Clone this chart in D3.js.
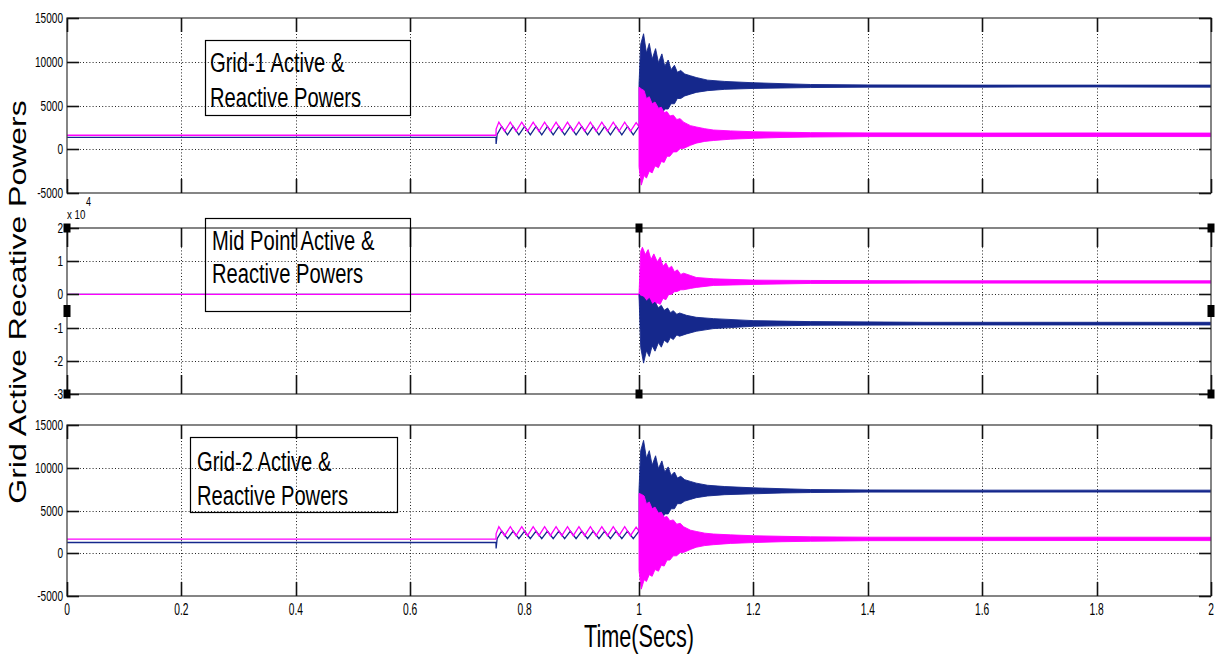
<!DOCTYPE html>
<html>
<head>
<meta charset="utf-8">
<script src="https://cdn.jsdelivr.net/npm/d3@7"></script>
<style>
  html, body { margin: 0; padding: 0; background: #fff; }
  svg { display: block; }
  text { font-family: "Liberation Sans", Arial, sans-serif; fill: #000; }
</style>
</head>
<body>
<svg id="chart" width="1219" height="654"></svg>
<script>
// ---- shared axis data ----
const timeTicks = [0, 0.2, 0.4, 0.6, 0.8, 1, 1.2, 1.4, 1.6, 1.8, 2];
const timeTickLabels = ["0", "0.2", "0.4", "0.6", "0.8", "1", "1.2", "1.4", "1.6", "1.8", "2"];
const gridPowerTicks = [-5000, 0, 5000, 10000, 15000];
const midPowerTicks = [-3, -2, -1, 0, 1, 2];   // x 10^4

// ---- Grid-1: traces up to t = 1 s as [t, value] ----
const g1ActiveLine = [
  [0, 1350], [0.75, 1350], [0.7502, 600], [0.752, 1700],
  [0.76, 2600], [0.77, 1650], [0.78, 2600], [0.79, 1650], [0.80, 2600], [0.81, 1650],
  [0.82, 2600], [0.83, 1650], [0.84, 2600], [0.85, 1650], [0.86, 2600], [0.87, 1650],
  [0.88, 2600], [0.89, 1650], [0.90, 2600], [0.91, 1650], [0.92, 2600], [0.93, 1650],
  [0.94, 2600], [0.95, 1650], [0.96, 2600], [0.97, 1650], [0.98, 2600], [0.99, 1650],
  [1.0, 2600]
];
const g1ReactiveLine = [
  [0, 1600], [0.75, 1600], [0.7502, 2300],
  [0.755, 3100], [0.765, 2050], [0.775, 3100], [0.785, 2050], [0.795, 3100], [0.805, 2050],
  [0.815, 3100], [0.825, 2050], [0.835, 3100], [0.845, 2050], [0.855, 3100], [0.865, 2050],
  [0.875, 3100], [0.885, 2050], [0.895, 3100], [0.905, 2050], [0.915, 3100], [0.925, 2050],
  [0.935, 3100], [0.945, 2050], [0.955, 3100], [0.965, 2050], [0.975, 3100], [0.985, 2050],
  [0.995, 3050], [1.0, 2600]
];
// ---- Grid-1: oscillation band after t = 1 s as [t, low, high] ----
const g1ActiveBand = [
  [1.000, 2600, 7400], [1.003, 3000, 12000], [1.008, 3200, 13200], [1.013, 3500, 11000],
  [1.018, 3400, 12100], [1.023, 3800, 10300], [1.029, 3700, 11500], [1.034, 4100, 9900],
  [1.040, 4000, 10900], [1.045, 4600, 9500], [1.051, 4600, 10200], [1.056, 5200, 9100],
  [1.062, 5200, 9600], [1.067, 5800, 8800], [1.073, 5800, 9000], [1.080, 6100, 8600],
  [1.090, 6300, 8400], [1.100, 6500, 8200], [1.120, 6700, 7900], [1.150, 6850, 7750],
  [1.200, 6950, 7600], [1.250, 7000, 7500], [1.300, 7050, 7400], [1.400, 7100, 7350],
  [1.600, 7100, 7330], [1.800, 7120, 7330], [2.000, 7100, 7330]
];
const g1ReactiveBand = [
  [1.000, -2000, 7100], [1.004, -4100, 6900], [1.009, -3000, 6700], [1.013, -3300, 5800],
  [1.018, -2500, 6000], [1.023, -2700, 5200], [1.028, -1900, 5400], [1.034, -2100, 4700],
  [1.039, -1400, 4800], [1.044, -1500, 4200], [1.049, -800, 4300], [1.054, -800, 3800],
  [1.060, -300, 3900], [1.066, -300, 3400], [1.072, 100, 3500], [1.078, 100, 3100],
  [1.090, 450, 2700], [1.100, 700, 2550], [1.115, 900, 2350], [1.130, 1000, 2200],
  [1.160, 1150, 2100], [1.200, 1250, 2000], [1.250, 1350, 1950], [1.300, 1400, 1900],
  [1.400, 1450, 1870], [1.600, 1450, 1850], [1.800, 1460, 1860], [2.000, 1450, 1850]
];

// ---- Mid point (x 10^4) ----
const mpActiveLine = [[0, 0], [1.0, 0]];
const mpReactiveLine = [[0, 0], [1.0, 0]];
const mpActiveBand = [
  [1.000, 0, 0], [1.003, -1.60, -0.05], [1.008, -2.07, -0.08], [1.013, -1.70, -0.20],
  [1.018, -1.87, -0.12], [1.023, -1.55, -0.30], [1.028, -1.71, -0.24], [1.034, -1.45, -0.40],
  [1.039, -1.59, -0.33], [1.044, -1.38, -0.48], [1.050, -1.46, -0.41], [1.055, -1.30, -0.55],
  [1.060, -1.36, -0.49], [1.066, -1.22, -0.60], [1.071, -1.26, -0.56], [1.083, -1.19, -0.63],
  [1.100, -1.11, -0.69], [1.130, -1.03, -0.73], [1.200, -0.96, -0.79], [1.300, -0.93, -0.82],
  [1.500, -0.92, -0.84], [2.000, -0.92, -0.84]
];
const mpReactiveBand = [
  [1.000, 0, 0], [1.003, -0.60, 1.30], [1.006, -0.76, 1.42], [1.011, -0.55, 1.20],
  [1.016, -0.60, 1.35], [1.021, -0.40, 1.05], [1.026, -0.45, 1.22], [1.032, -0.25, 0.98],
  [1.037, -0.30, 1.12], [1.042, -0.12, 0.85], [1.047, -0.16, 0.95], [1.052, 0.00, 0.78],
  [1.057, 0.00, 0.85], [1.062, 0.08, 0.68], [1.067, 0.09, 0.74], [1.073, 0.14, 0.60],
  [1.078, 0.14, 0.64], [1.090, 0.18, 0.57], [1.100, 0.21, 0.51], [1.130, 0.27, 0.47],
  [1.200, 0.30, 0.43], [1.300, 0.33, 0.42], [1.500, 0.34, 0.41], [2.000, 0.34, 0.41]
];

// ---- Grid-2 ----
const g2ActiveLine = [
  [0, 1260], [0.75, 1260], [0.7502, 550], [0.752, 1700],
  [0.76, 2600], [0.77, 1700], [0.78, 2600], [0.79, 1700], [0.80, 2600], [0.81, 1700],
  [0.82, 2600], [0.83, 1700], [0.84, 2600], [0.85, 1700], [0.86, 2600], [0.87, 1700],
  [0.88, 2600], [0.89, 1700], [0.90, 2600], [0.91, 1700], [0.92, 2600], [0.93, 1700],
  [0.94, 2600], [0.95, 1700], [0.96, 2600], [0.97, 1700], [0.98, 2600], [0.99, 1700],
  [1.0, 2600]
];
const g2ReactiveLine = [
  [0, 1650], [0.75, 1650], [0.7502, 2300],
  [0.755, 3100], [0.765, 2050], [0.775, 3100], [0.785, 2050], [0.795, 3100], [0.805, 2050],
  [0.815, 3100], [0.825, 2050], [0.835, 3100], [0.845, 2050], [0.855, 3100], [0.865, 2050],
  [0.875, 3100], [0.885, 2050], [0.895, 3100], [0.905, 2050], [0.915, 3100], [0.925, 2050],
  [0.935, 3100], [0.945, 2050], [0.955, 3100], [0.965, 2050], [0.975, 3100], [0.985, 2050],
  [0.995, 3050], [1.0, 2600]
];
const g2ActiveBand = [
  [1.000, 2600, 7400], [1.003, 3000, 12000], [1.008, 3200, 13200], [1.013, 3500, 11100],
  [1.018, 3400, 12000], [1.023, 3800, 10300], [1.029, 3700, 11400], [1.034, 4100, 9900],
  [1.040, 4000, 10800], [1.045, 4600, 9500], [1.051, 4600, 10100], [1.056, 5200, 9100],
  [1.062, 5200, 9500], [1.067, 5800, 8800], [1.073, 5800, 9000], [1.080, 6100, 8600],
  [1.090, 6300, 8400], [1.100, 6500, 8200], [1.120, 6700, 7950], [1.150, 6850, 7800],
  [1.200, 6950, 7650], [1.250, 7050, 7550], [1.300, 7100, 7450], [1.400, 7150, 7400],
  [1.600, 7150, 7380], [1.800, 7160, 7380], [2.000, 7150, 7380]
];
const g2ReactiveBand = [
  [1.000, -2000, 7000], [1.004, -4200, 6900], [1.009, -3100, 6700], [1.013, -3300, 5800],
  [1.018, -2500, 6000], [1.023, -2700, 5200], [1.028, -1900, 5400], [1.034, -2100, 4700],
  [1.039, -1400, 4800], [1.044, -1500, 4200], [1.049, -800, 4300], [1.054, -800, 3800],
  [1.060, -300, 3900], [1.066, -300, 3400], [1.072, 100, 3500], [1.078, 100, 3100],
  [1.090, 450, 2700], [1.100, 700, 2550], [1.115, 900, 2350], [1.130, 1000, 2250],
  [1.160, 1150, 2150], [1.200, 1250, 2050], [1.250, 1350, 1980], [1.300, 1400, 1920],
  [1.400, 1470, 1880], [1.600, 1480, 1870], [1.800, 1490, 1880], [2.000, 1480, 1870]
];

// ---- text ----
const panelTitles = [
  ["Grid-1 Active &", "Reactive Powers"],
  ["Mid Point Active &", "Reactive Powers"],
  ["Grid-2 Active &", "Reactive Powers"]
];
const xAxisTitle = "Time(Secs)";
const yAxisTitle = "Grid Active Recative Powers";

const ACTIVE = "#15288c";
const REACTIVE = "#ff00ff";

const svg = d3.select("#chart");
const x = d3.scaleLinear().domain([0, 2]).range([67, 1211]);

const panels = [
  { top: 18, bottom: 193, domain: [-5000, 15000], ticks: gridPowerTicks, tickV: 14,
    lines: [
      { data: g1ActiveLine, color: ACTIVE },
      { data: g1ReactiveLine, color: REACTIVE }
    ],
    bands: [
      { data: g1ActiveBand, color: ACTIVE },
      { data: g1ReactiveBand, color: REACTIVE }
    ],
    box: { x: 205, y: 40, w: 205, h: 75, tx: 210, b1: 72, b2: 107 }, title: panelTitles[0] },
  { top: 228, bottom: 394, domain: [-3, 2], ticks: midPowerTicks, tickV: 19,
    lines: [
      { data: mpActiveLine, color: ACTIVE },
      { data: mpReactiveLine, color: REACTIVE }
    ],
    bands: [
      { data: mpReactiveBand, color: REACTIVE },
      { data: mpActiveBand, color: ACTIVE }
    ],
    box: { x: 205, y: 218, w: 205, h: 93, tx: 212, b1: 250, b2: 283 }, title: panelTitles[1],
    handles: true },
  { top: 425, bottom: 596, domain: [-5000, 15000], ticks: gridPowerTicks, tickV: 14,
    lines: [
      { data: g2ActiveLine, color: ACTIVE },
      { data: g2ReactiveLine, color: REACTIVE }
    ],
    bands: [
      { data: g2ActiveBand, color: ACTIVE },
      { data: g2ReactiveBand, color: REACTIVE }
    ],
    box: { x: 190, y: 437, w: 207, h: 75, tx: 197, b1: 471, b2: 505 }, title: panelTitles[2] }
];

const defs = svg.append("defs");

panels.forEach((p, i) => {
  const y = d3.scaleLinear().domain(p.domain).range([p.bottom, p.top]);
  const x0 = x.range()[0], x1 = x.range()[1];
  const g = svg.append("g");

  defs.append("clipPath").attr("id", "clip" + i)
    .append("rect").attr("x", x0).attr("y", p.top).attr("width", x1 - x0).attr("height", p.bottom - p.top);

  // dotted grid
  const grid = g.append("g").attr("stroke", "#222").attr("stroke-width", 1).attr("stroke-dasharray", "1,2.2");
  timeTicks.slice(1, -1).forEach(t => {
    grid.append("line").attr("x1", Math.round(x(t)) + 0.5).attr("x2", Math.round(x(t)) + 0.5)
      .attr("y1", p.top).attr("y2", p.bottom);
  });
  p.ticks.slice(1, -1).forEach(v => {
    grid.append("line").attr("y1", Math.round(y(v)) + 0.5).attr("y2", Math.round(y(v)) + 0.5)
      .attr("x1", x0).attr("x2", x1);
  });

  // data: thin traces first, oscillation bands on top
  const dataG = g.append("g").attr("clip-path", `url(#clip${i})`);
  const line = d3.line().x(d => x(d[0])).y(d => y(d[1]));
  const area = d3.area().x(d => x(d[0])).y0(d => y(d[1])).y1(d => y(d[2]));
  p.lines.forEach(s => {
    dataG.append("path").attr("d", line(s.data)).attr("fill", "none")
      .attr("stroke", s.color).attr("stroke-width", 1.3);
  });
  p.bands.forEach(s => {
    dataG.append("path").attr("d", area(s.data)).attr("fill", s.color)
      .attr("stroke", s.color).attr("stroke-width", 0.9).attr("stroke-linejoin", "round");
  });

  // axes box
  g.append("rect").attr("x", x0).attr("y", p.top).attr("width", x1 - x0).attr("height", p.bottom - p.top)
    .attr("fill", "none").attr("stroke", "#444").attr("stroke-width", 1.3);

  // inward tick marks
  const tk = g.append("g").attr("stroke", "#111").attr("stroke-width", 1.6);
  p.ticks.forEach(v => {
    const yy = Math.round(y(v)) + 0.5;
    tk.append("line").attr("x1", x0).attr("x2", x0 + 12).attr("y1", yy).attr("y2", yy);
    tk.append("line").attr("x1", x1 - 12).attr("x2", x1).attr("y1", yy).attr("y2", yy);
  });
  timeTicks.forEach(t => {
    const xx = Math.round(x(t)) + 0.5;
    tk.append("line").attr("x1", xx).attr("x2", xx).attr("y1", p.top).attr("y2", p.top + p.tickV);
    tk.append("line").attr("x1", xx).attr("x2", xx).attr("y1", p.bottom - p.tickV).attr("y2", p.bottom);
  });

  // y tick labels
  p.ticks.forEach(v => {
    g.append("text").attr("text-anchor", "end")
      .attr("transform", `translate(63,${y(v) + 5}) scale(0.72,1)`)
      .attr("font-size", 14).text(String(v));
  });

  // title box
  const b = p.box;
  g.append("rect").attr("x", b.x + 0.5).attr("y", b.y + 0.5).attr("width", b.w).attr("height", b.h)
    .attr("fill", "none").attr("stroke", "#000").attr("stroke-width", 1.2);
  [b.b1, b.b2].forEach((by, k) => {
    g.append("text").attr("transform", `translate(${b.tx},${by}) scale(0.72,1)`)
      .attr("font-size", 28).text(p.title[k]);
  });

  // selection handles
  if (p.handles) {
    const ym = (p.top + p.bottom) / 2;
    [[x0, p.top], [x0, ym], [x0, p.bottom], [x(1), p.top], [x(1), p.bottom],
     [x1, p.top], [x1, ym], [x1, p.bottom]].forEach(([hx, hy], k) => {
      const tall = (k === 1 || k === 6) ? 12 : 9;
      g.append("rect").attr("x", hx - 3.5).attr("y", hy - tall / 2).attr("width", 7).attr("height", tall)
        .attr("fill", "#000");
    });
    // exponent label
    g.append("text").attr("transform", `translate(67,${p.top - 9}) scale(0.75,1)`)
      .attr("font-size", 13).text("x 10");
    g.append("text").attr("transform", `translate(86,${p.top - 22}) scale(0.75,1)`)
      .attr("font-size", 12).text("4");
  }
});

// x tick labels under the last panel
timeTicks.forEach((t, k) => {
  svg.append("text").attr("text-anchor", "middle")
    .attr("transform", `translate(${x(t)},615) scale(0.64,1)`)
    .attr("font-size", 16).text(timeTickLabels[k]);
});

// axis titles
svg.append("text").attr("text-anchor", "middle")
  .attr("transform", "translate(639,647) scale(0.7,1)")
  .attr("font-size", 31).text(xAxisTitle);
svg.append("text").attr("text-anchor", "middle")
  .attr("transform", "translate(26,302) rotate(-90) scale(1,0.74)")
  .attr("font-size", 32).text(yAxisTitle);
</script>
</body>
</html>
